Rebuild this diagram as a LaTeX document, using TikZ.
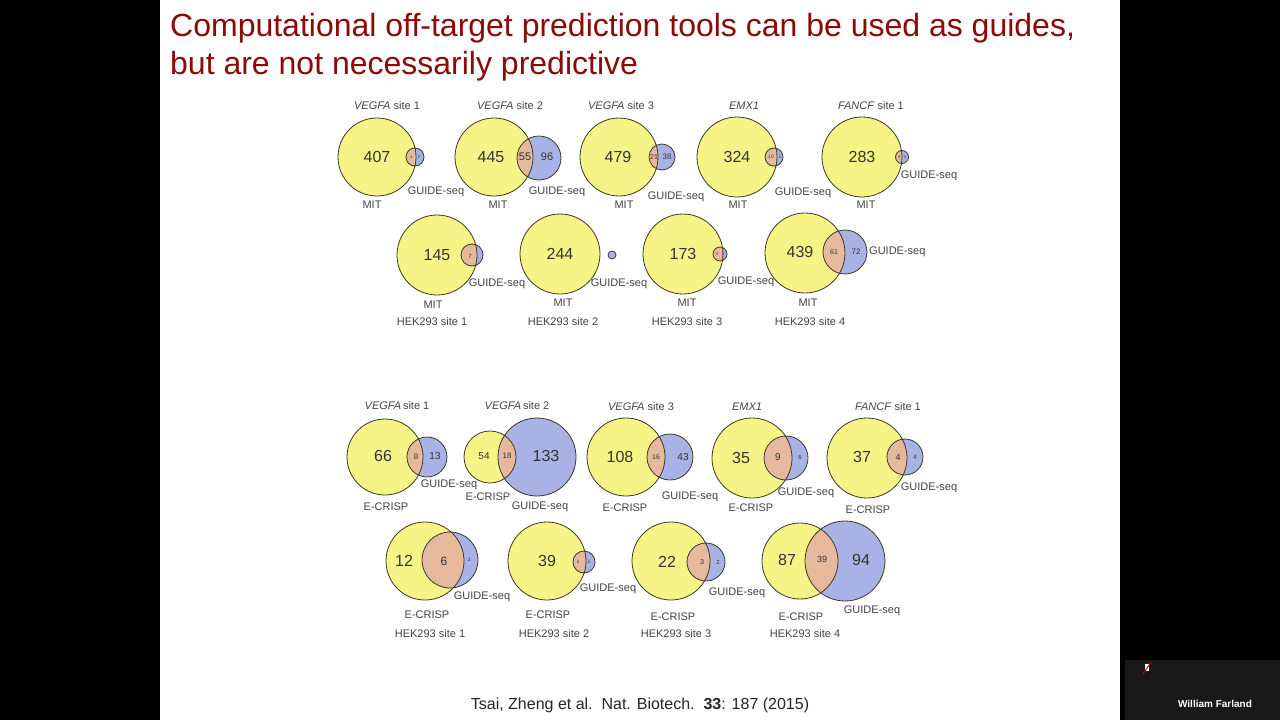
\documentclass[tikz,border=0pt]{standalone}
\usepackage{fontspec}
\setmainfont{Liberation Sans}
\definecolor{vyel}{HTML}{F7F487}
\definecolor{vblu}{HTML}{A8B2E4}
\definecolor{vpch}{HTML}{E6B99C}
\definecolor{vline}{HTML}{3C3A28}
\definecolor{ttl}{HTML}{8B0A0A}
\definecolor{vtxt}{HTML}{333333}
\definecolor{ltxt}{HTML}{444444}
\newcommand\vpair[6]{%
  \fill[vyel] (#1,#2) circle[radius=#3pt];
  \fill[vblu] (#4,#5) circle[radius=#6pt];
  \begin{scope}
    \clip (#1,#2) circle[radius=#3pt];
    \fill[vpch] (#4,#5) circle[radius=#6pt];
  \end{scope}
  \draw[vline,line width=0.8pt] (#1,#2) circle[radius=#3pt] (#4,#5) circle[radius=#6pt];}
\tikzset{
  big/.style={inner sep=0pt,text=vtxt,font=\fontsize{16}{18}\selectfont},
  sm/.style={inner sep=0pt,text=vtxt,font=\fontsize{#1}{#1}\selectfont},
  lab/.style={inner sep=0pt,text=ltxt,font=\fontsize{11}{13}\selectfont},
}
\begin{document}
\begin{tikzpicture}[x=1pt,y=-1pt]
\useasboundingbox (0,0) rectangle (1280,720);
\fill[black] (0,0) rectangle (1280,720);
\fill[white] (160,0) rectangle (1120,720);
\fill[black!90] (1125,660) rectangle (1280,720);

% title
\node[anchor=base west,inner sep=0pt,text=ttl,font=\fontsize{32}{36}\selectfont] (title1) at (170,36) {Computational off-target prediction tools can be used as guides,};
\node[anchor=base west,inner sep=0pt,text=ttl,font=\fontsize{32}{36}\selectfont] (title2) at (170,74) {but are not necessarily predictive};

% ---------- MIT row 1
\vpair{377}{157}{39}{415}{157}{9}
\node[big] (a1) at (377,157) {407};
\node[sm=4] (a1o) at (411.5,157) {4};
\node[sm=4] (a1b) at (419,157) {2};
\vpair{494}{157}{39}{539}{158}{22}
\node[big] (a2) at (491,157) {445};
\node[sm=11] (a2o) at (525,157) {55};
\node[sm=11] (a2b) at (547,157) {96};
\vpair{619}{157}{39}{662}{157}{13}
\node[big] (a3) at (618,157) {479};
\node[sm=7] (a3o) at (654,157) {21};
\node[sm=8] (a3b) at (667,157) {38};
\vpair{737}{157}{40}{774}{157}{9}
\node[big] (a4) at (737,157) {324};
\node[sm=5] (a4o) at (771,157) {10};
\node[sm=5] (a4b) at (780,157) {1};
\vpair{862}{157}{40}{902}{157}{6.5}
\node[big] (a5) at (862,157) {283};
\node[sm=4] (a5o) at (899.5,157) {6};
\node[sm=4] (a5b) at (905,157) {3};

\node[lab] (ta1) at (387,106) {\textit{VEGFA} site 1};
\node[lab] (ta2) at (510,106) {\textit{VEGFA} site 2};
\node[lab] (ta3) at (621,106) {\textit{VEGFA} site 3};
\node[lab] (ta4) at (744,106) {\textit{EMX1}};
\node[lab] (ta5) at (871,106) {\textit{FANCF} site 1};
\node[lab] (ga1) at (436,192) {GUIDE-seq};
\node[lab] (ga2) at (557,192) {GUIDE-seq};
\node[lab] (ga3) at (676,197) {GUIDE-seq};
\node[lab] (ga4) at (803,193) {GUIDE-seq};
\node[lab] (ga5) at (929,176) {GUIDE-seq};
\node[lab] (ma1) at (372,205) {MIT};
\node[lab] (ma2) at (498,205) {MIT};
\node[lab] (ma3) at (624,205) {MIT};
\node[lab] (ma4) at (738,205) {MIT};
\node[lab] (ma5) at (866,205) {MIT};

% ---------- MIT row 2
\vpair{437}{255}{40}{472}{255}{11}
\node[big] (b1) at (437,255) {145};
\node[sm=6] (b1o) at (470,256) {7};
\vpair{560}{254}{40}{612}{255}{4}
\node[big] (b2) at (560,254) {244};
\vpair{683}{254}{40}{720}{254}{7}
\node[big] (b3) at (683,254) {173};
\node[sm=4] (b3o) at (717,254) {3};
\node[sm=4] (b3b) at (723,254) {2};
\vpair{805}{253}{40}{845}{252}{22}
\node[big] (b4) at (800,252) {439};
\node[sm=7] (b4o) at (834,252) {61};
\node[sm=8] (b4b) at (856,252) {72};

\node[lab] (gb1) at (497,284) {GUIDE-seq};
\node[lab] (gb2) at (619,284) {GUIDE-seq};
\node[lab] (gb3) at (746,282) {GUIDE-seq};
\node[lab,anchor=west] (gb4) at (869,252) {GUIDE-seq};
\node[lab] (mb1) at (433,305) {MIT};
\node[lab] (mb2) at (563,303) {MIT};
\node[lab] (mb3) at (687,303) {MIT};
\node[lab] (mb4) at (808,303) {MIT};
\node[lab] (hb1) at (432,322) {HEK293 site 1};
\node[lab] (hb2) at (563,322) {HEK293 site 2};
\node[lab] (hb3) at (687,322) {HEK293 site 3};
\node[lab] (hb4) at (810,322) {HEK293 site 4};

% ---------- E-CRISP row 1
\vpair{385}{457}{38}{427}{457}{20}
\node[big] (c1) at (383,456) {66};
\node[sm=8] (c1o) at (416,457) {8};
\node[sm=10] (c1b) at (435,456) {13};
\vpair{490}{457}{26}{537}{457}{39}
\node[sm=10] (c2) at (484,456) {54};
\node[sm=8] (c2o) at (507,456) {18};
\node[big] (c2b) at (546,456) {133};
\vpair{626}{457}{39}{670}{457}{23}
\node[big] (c3) at (620,457) {108};
\node[sm=7] (c3o) at (656,457) {16};
\node[sm=10] (c3b) at (683,457) {43};
\vpair{752}{458}{40}{786}{458}{22}
\node[big] (c4) at (741,458) {35};
\node[sm=10] (c4o) at (778,457) {9};
\node[sm=6] (c4b) at (800,457) {6};
\vpair{867}{458}{40}{905}{457}{18}
\node[big] (c5) at (862,457) {37};
\node[sm=9] (c5o) at (898,457) {4};
\node[sm=6] (c5b) at (915,457) {4};

\node[lab] (tc1) at (397,406) {\textit{VEGFA}\,site 1};
\node[lab] (tc2) at (517,406) {\textit{VEGFA}\,site 2};
\node[lab] (tc3) at (641,407) {\textit{VEGFA} site 3};
\node[lab] (tc4) at (747,407) {\textit{EMX1}};
\node[lab] (tc5) at (888,407) {\textit{FANCF} site 1};
\node[lab] (gc1) at (449,485) {GUIDE-seq};
\node[lab] (gc2) at (540,507) {GUIDE-seq};
\node[lab] (gc3) at (690,497) {GUIDE-seq};
\node[lab] (gc4) at (806,493) {GUIDE-seq};
\node[lab] (gc5) at (929,488) {GUIDE-seq};
\node[lab] (ec1) at (386,507) {E-CRISP};
\node[lab] (ec2) at (488,497) {E-CRISP};
\node[lab] (ec3) at (625,508) {E-CRISP};
\node[lab] (ec4) at (751,508) {E-CRISP};
\node[lab] (ec5) at (868,510) {E-CRISP};

% ---------- E-CRISP row 2
\vpair{425}{561}{39}{450}{560}{28}
\node[big] (d1) at (404,561) {12};
\node[sm=12] (d1o) at (444,561) {6};
\node[sm=5] (d1b) at (469,560) {3};
\vpair{547}{561}{39}{584}{562}{11}
\node[big] (d2) at (547,561) {39};
\node[sm=5] (d2o) at (578,562) {1};
\node[sm=5] (d2b) at (589,562) {1};
\vpair{671}{561}{39}{706}{562}{19}
\node[big] (d3) at (667,562) {22};
\node[sm=7] (d3o) at (702,562) {3};
\node[sm=6] (d3b) at (718,562) {2};
\vpair{800}{561}{38}{845}{561}{40}
\node[big] (d4) at (787,560) {87};
\node[sm=9] (d4o) at (822,559) {39};
\node[big] (d4b) at (861,560) {94};

\node[lab] (gd1) at (482,597) {GUIDE-seq};
\node[lab] (gd2) at (608,589) {GUIDE-seq};
\node[lab] (gd3) at (737,593) {GUIDE-seq};
\node[lab] (gd4) at (872,611) {GUIDE-seq};
\node[lab] (ed1) at (427,615) {E-CRISP};
\node[lab] (ed2) at (548,615) {E-CRISP};
\node[lab] (ed3) at (673,617) {E-CRISP};
\node[lab] (ed4) at (801,617) {E-CRISP};
\node[lab] (hd1) at (430,634) {HEK293 site 1};
\node[lab] (hd2) at (554,634) {HEK293 site 2};
\node[lab] (hd3) at (676,634) {HEK293 site 3};
\node[lab] (hd4) at (805,634) {HEK293 site 4};

% citation
\node[inner sep=0pt,text=black!85,font=\fontsize{16}{18}\selectfont] (cite) at (640,705) {Tsai, Zheng et al.\ \ Nat. Biotech.\ \ \textbf{33}: 187 (2015)};

% speaker tile
\fill[white] (1145,664) rectangle (1149,671);
\draw[red!80!black,line width=1pt] (1143,674) -- (1151,662);
\node[inner sep=0pt,text=white,font=\bfseries\fontsize{10}{12}\selectfont] (spk) at (1215,704) {William Farland};
\end{tikzpicture}
\end{document}
